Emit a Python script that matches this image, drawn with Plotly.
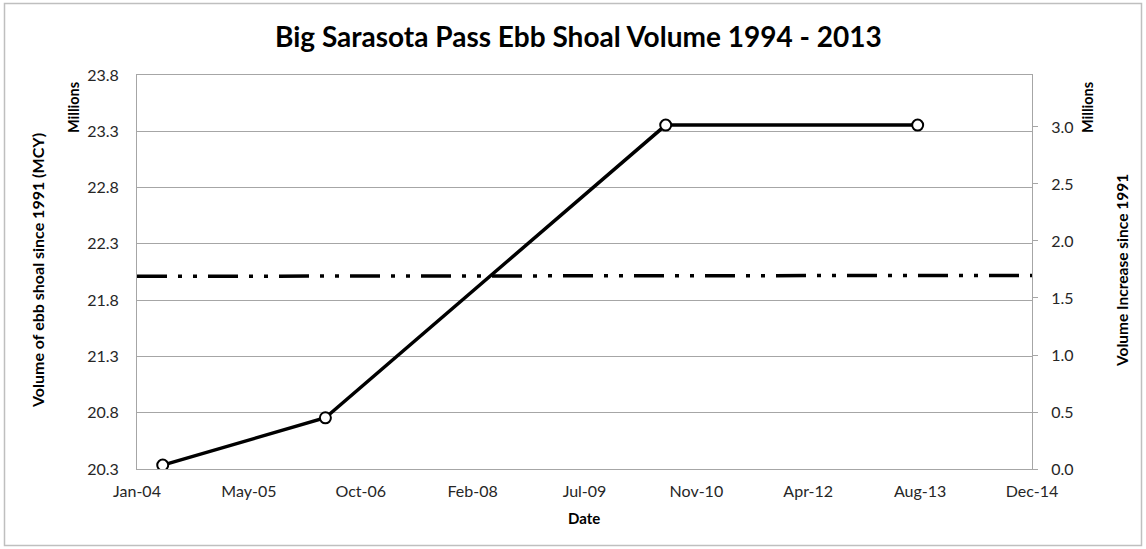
import pandas as pd
import plotly.graph_objects as go

# Survey dates and measured ebb shoal volume (million cubic yards)
survey_dates = ["2004-05-08", "2006-05-05", "2010-07-04", "2013-08-03"]
shoal_volume = [20.335, 20.755, 23.355, 23.355]

# Reference level drawn across the whole period
ref_dates = ["2004-01-14", "2014-12-27"]
ref_volume = [22.012, 22.020]

# Axis ticks
x_tick_labels = ["Jan-04", "May-05", "Oct-06", "Feb-08", "Jul-09",
                 "Nov-10", "Apr-12", "Aug-13", "Dec-14"]
left_ticks = [20.3, 20.8, 21.3, 21.8, 22.3, 22.8, 23.3, 23.8]
right_ticks = [0.0, 0.5, 1.0, 1.5, 2.0, 2.5, 3.0]

x_start = pd.Timestamp(ref_dates[0])
x_end = pd.Timestamp(ref_dates[-1])
x_tick_vals = pd.date_range(x_start, periods=len(x_tick_labels), freq="500D")

FONT = "Lato"
GRID = "#A6A6A6"
TXT = "#262626"
TICK_SIZE = 16

W, H = 1146, 549
ML, MR, MT, MB = 137, 114, 75, 80
PW, PH = W - ML - MR, H - MT - MB


def px(x):
    return (x - ML) / PW


def py(y):
    return 1 - (y - MT) / PH


def label(text, x, y, size, angle=0):
    return dict(text=text, x=px(x), y=py(y), xref="paper", yref="paper",
                xanchor="center", yanchor="middle", textangle=angle,
                showarrow=False, font=dict(size=size, color="black"))


fig = go.Figure()

fig.add_trace(go.Scatter(
    x=ref_dates, y=ref_volume, mode="lines",
    line=dict(color="black", width=3.5, dash="30px,11px,4px,11px,4px,11px"),
    hoverinfo="skip", showlegend=False,
))

fig.add_trace(go.Scatter(
    x=survey_dates, y=shoal_volume, mode="lines+markers",
    line=dict(color="black", width=3.5),
    marker=dict(symbol="circle", size=11, color="white",
                line=dict(color="black", width=2)),
    showlegend=False,
))

# invisible trace to activate the secondary axis
fig.add_trace(go.Scatter(
    x=[x_start], y=[0], yaxis="y2", mode="markers",
    marker=dict(opacity=0), hoverinfo="skip", showlegend=False,
))

fig.update_layout(
    width=W, height=H,
    margin=dict(l=ML, r=MR, t=MT, b=MB),
    paper_bgcolor="white", plot_bgcolor="white",
    font=dict(family=FONT, color=TXT, size=TICK_SIZE),
    xaxis=dict(
        type="date", range=[x_start, x_end],
        tickvals=x_tick_vals, ticktext=x_tick_labels,
        showgrid=False, zeroline=False,
        showline=True, linecolor=GRID, linewidth=1, mirror=True,
        ticks="", ticklabelstandoff=8,
        tickfont=dict(size=TICK_SIZE, color=TXT),
    ),
    yaxis=dict(
        range=[20.3, 23.8], tickvals=left_ticks,
        ticktext=[f"{v:.1f}" for v in left_ticks],
        showgrid=True, gridcolor=GRID, gridwidth=1, zeroline=False,
        showline=True, linecolor=GRID, linewidth=1, mirror=True,
        ticks="", ticklabelstandoff=14,
        tickfont=dict(size=TICK_SIZE, color=TXT),
    ),
    yaxis2=dict(
        overlaying="y", side="right", range=[0, 3.456],
        tickvals=right_ticks, ticktext=[f"{v:.1f}" for v in right_ticks],
        showgrid=False, zeroline=False,
        showline=True, linecolor=GRID, linewidth=1,
        ticks="outside", ticklen=5, tickcolor=GRID,
        ticklabelstandoff=10,
        tickfont=dict(size=TICK_SIZE, color=TXT),
    ),
    shapes=[dict(
        type="rect", xref="paper", yref="paper",
        x0=px(4.5), x1=px(1141.5), y0=py(3.5), y1=py(545.5),
        line=dict(color="#BFBFBF", width=1.5), layer="below",
    )],
    annotations=[
        label("<b>Big Sarasota Pass Ebb Shoal Volume 1994 - 2013</b>", 578, 36, 28),
        label("<b>Date</b>", 584, 518, 15),
        label("<b>Volume of ebb shoal since 1991 (MCY)</b>", 37, 271, 16, -90),
        label("<b>Millions</b>", 73, 108, 14.5, -90),
        label("<b>Millions</b>", 1087, 108, 14.5, -90),
        label("<b>Volume Increase since 1991</b>", 1122, 271, 15.5, -90),
    ],
)

fig.write_html("out.html")
